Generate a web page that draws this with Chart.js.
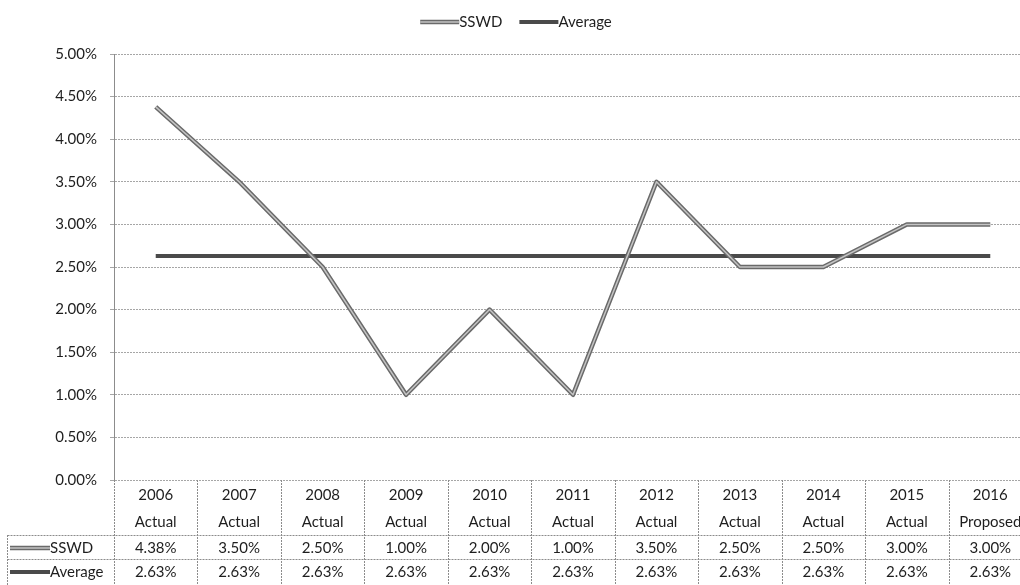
<!DOCTYPE html>
<html lang="en">
<head>
<meta charset="UTF-8">
<title>SSWD vs Average</title>
<script src="https://cdn.jsdelivr.net/npm/chart.js@4.4.1/dist/chart.umd.min.js"></script>
<style>
  html, body { margin: 0; padding: 0; background: #fff; overflow: hidden; }
  canvas { display: block; }
</style>
</head>
<body>
<canvas id="rateChart" width="1032" height="585"></canvas>
<script>
const years = ['2006', '2007', '2008', '2009', '2010', '2011', '2012', '2013', '2014', '2015', '2016'];
const status = ['Actual', 'Actual', 'Actual', 'Actual', 'Actual', 'Actual', 'Actual', 'Actual', 'Actual', 'Actual', 'Proposed'];
const sswd = [4.38, 3.50, 2.50, 1.00, 2.00, 1.00, 3.50, 2.50, 2.50, 3.00, 3.00];
const average = [2.63, 2.63, 2.63, 2.63, 2.63, 2.63, 2.63, 2.63, 2.63, 2.63, 2.63];
const yMin = 0, yMax = 5, yStep = 0.5;

const FONT = '15px Lato';
const INK = '#1e1e1e';
const RULE = '#8c8c8c';

const pct = v => v.toFixed(2) + '%';

// line sample used by both legends
function sample(ctx, ds, x1, x2, y) {
    ctx.save();
    ctx.setLineDash([]);
    ctx.lineCap = 'butt';
    ctx.strokeStyle = ds.borderColor;
    ctx.lineWidth = ds.borderWidth;
    ctx.beginPath(); ctx.moveTo(x1, y); ctx.lineTo(x2, y); ctx.stroke();
    if (ds.innerColor) {
        ctx.strokeStyle = ds.innerColor;
        ctx.lineWidth = 1.5;
        ctx.beginPath(); ctx.moveTo(x1, y); ctx.lineTo(x2, y); ctx.stroke();
    }
    ctx.restore();
}

function rule(ctx, x1, y1, x2, y2) {
    ctx.beginPath(); ctx.moveTo(x1, y1); ctx.lineTo(x2, y2); ctx.stroke();
}

const doubleLine = {
    id: 'doubleLine',
    afterDatasetsDraw(chart) {
        const ctx = chart.ctx;
        chart.data.datasets.forEach((ds, i) => {
            if (!ds.innerColor) return;
            const pts = chart.getDatasetMeta(i).data;
            ctx.save();
            ctx.strokeStyle = ds.innerColor;
            ctx.lineWidth = 1.5;
            ctx.lineJoin = 'round';
            ctx.beginPath();
            pts.forEach((p, k) => k ? ctx.lineTo(p.x, p.y) : ctx.moveTo(p.x, p.y));
            ctx.stroke();
            ctx.restore();
        });
    }
};

const dataTable = {
    id: 'dataTable',
    afterDraw(chart) {
        const ctx = chart.ctx;
        const x = chart.scales.x;
        const sets = chart.data.datasets;
        const top = chart.chartArea.bottom;
        const bottom = chart.height;
        const step = x.getPixelForValue(1) - x.getPixelForValue(0);
        const first = x.getPixelForValue(0) - step / 2;
        const headBottom = top + 55;
        const rowH = 24;
        const leftEdge = 7.5;

        ctx.save();
        ctx.strokeStyle = RULE;
        ctx.lineWidth = 1;
        ctx.setLineDash([2, 1]);
        for (let k = 0; k <= years.length; k++) {
            const xe = Math.round(first + k * step) + 0.5;
            rule(ctx, xe, top, xe, bottom);
        }
        rule(ctx, leftEdge, headBottom, leftEdge, bottom);
        rule(ctx, leftEdge, headBottom + 0.5, chart.width, headBottom + 0.5);
        rule(ctx, leftEdge, headBottom + rowH + 0.5, chart.width, headBottom + rowH + 0.5);

        ctx.font = FONT;
        ctx.fillStyle = INK;
        ctx.textBaseline = 'middle';
        ctx.textAlign = 'center';
        years.forEach((yr, i) => {
            const cx = x.getPixelForValue(i);
            ctx.fillText(yr, cx, top + 15);
            ctx.fillText(status[i], cx, top + 42);
        });

        sets.forEach((ds, r) => {
            const cy = headBottom + rowH / 2 + r * rowH + 1;
            ctx.textAlign = 'center';
            ds.data.forEach((v, i) => ctx.fillText(pct(v), x.getPixelForValue(i), cy));
            sample(ctx, ds, 10, 50, cy);
            ctx.fillStyle = INK;
            ctx.textAlign = 'left';
            ctx.fillText(ds.label, 50, cy);
        });

        // legend on top
        const widths = sets.map(ds => 39 + ctx.measureText(ds.label).width);
        const gap = 17;
        let lx = (chart.width - widths.reduce((a, b) => a + b, 0) - gap) / 2;
        sets.forEach((ds, i) => {
            sample(ctx, ds, lx, lx + 39, 22);
            ctx.fillStyle = INK;
            ctx.textAlign = 'left';
            ctx.fillText(ds.label, lx + 39, 22);
            lx += widths[i] + gap;
        });
        ctx.restore();
    }
};

new Chart(document.getElementById('rateChart'), {
    type: 'line',
    data: {
        labels: years,
        datasets: [{
            label: 'SSWD',
            data: sswd,
            borderColor: '#6a6a6a',
            innerColor: '#c4c4c4',
            borderWidth: 4.5,
            pointRadius: 0,
            tension: 0,
            borderJoinStyle: 'round'
        }, {
            label: 'Average',
            data: average,
            borderColor: '#4a4a4a',
            borderWidth: 4,
            pointRadius: 0,
            tension: 0
        }]
    },
    options: {
        responsive: false,
        animation: false,
        devicePixelRatio: 1,
        layout: { padding: { top: 54, left: 0, right: 0, bottom: 0 } },
        plugins: {
            legend: { display: false },
            tooltip: { enabled: false }
        },
        scales: {
            x: {
                type: 'category',
                offset: true,
                ticks: { display: false },
                grid: { display: false },
                border: { display: false },
                afterFit: s => { s.height = 105; }
            },
            y: {
                min: yMin,
                max: yMax,
                ticks: {
                    stepSize: yStep,
                    callback: v => pct(v),
                    font: { family: 'Lato', size: 15 },
                    color: INK,
                    padding: 13
                },
                grid: { color: '#a6a6a6', lineWidth: 1, tickLength: 4 },
                border: { color: RULE, dash: [2, 1] },
                afterFit: s => { s.width = 114; }
            }
        }
    },
    plugins: [doubleLine, dataTable]
});
</script>
</body>
</html>
